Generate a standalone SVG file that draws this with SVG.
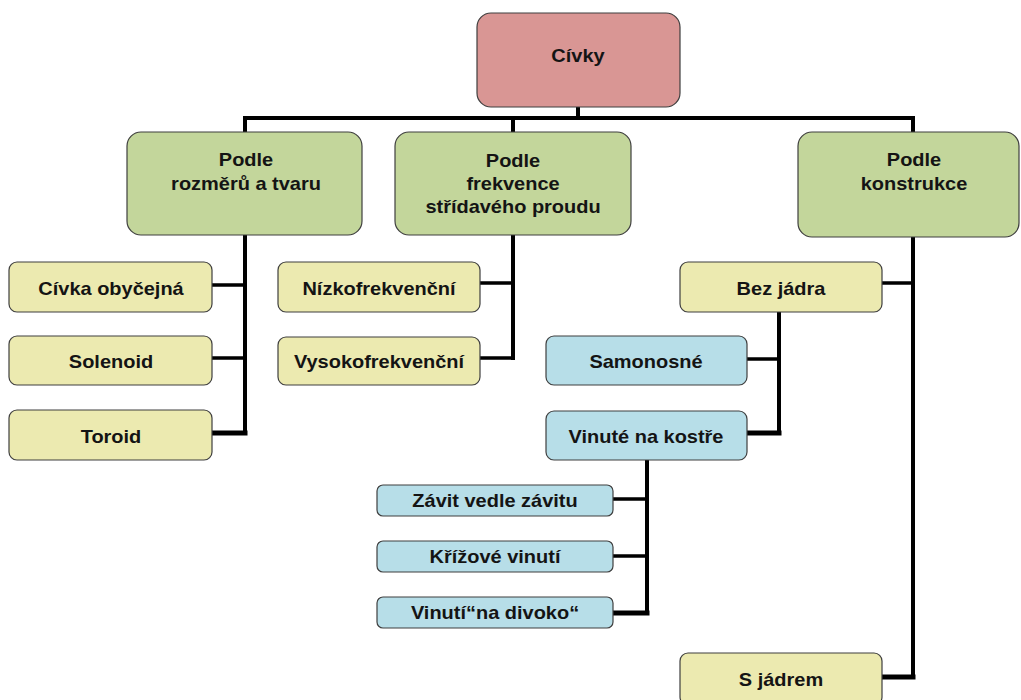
<svg xmlns="http://www.w3.org/2000/svg" width="1021" height="700" viewBox="0 0 1021 700">
<style>
.box{stroke:#3f3f3f;stroke-width:1.2}
.root{fill:#D99694}
.green{fill:#C3D69B}
.yellow{fill:#ECEAB0}
.blue{fill:#B7DEE8}
.t{font-family:"Liberation Sans",Arial,sans-serif;font-weight:bold;font-size:18px;fill:#141414;text-anchor:middle}
.c{fill:none;stroke:#000;stroke-linecap:square}
.w4{stroke-width:4}
.w3{stroke-width:3.5}
.w5{stroke-width:5}
</style>
<rect width="1021" height="700" fill="#fff"/>
<g id="connectors">
<path class="c w4" d="M578,107 V118 M245,118 H913 M245,118 V132 M513,118 V132 M913,118 V132"/>
<path class="c w4" d="M245,235 V433"/>
<path class="c w3" d="M213,285 H245 M213,358 H245"/>
<path class="c w5" d="M213,433 H245"/>
<path class="c w4" d="M513,235 V358"/>
<path class="c w3" d="M481,283 H513 M481,358 H513"/>
<path class="c w4" d="M913,237 V677"/>
<path class="c w3" d="M883,283 H913"/>
<path class="c w5" d="M883,677 H913"/>
<path class="c w4" d="M779,312 V433"/>
<path class="c w3" d="M748,359 H779"/>
<path class="c w5" d="M748,433 H779"/>
<path class="c w4" d="M647,460 V613"/>
<path class="c w3" d="M614,499 H647 M614,556 H647"/>
<path class="c w5" d="M614,613 H647"/>
</g>
<g id="civky">
<rect class="box root" x="477" y="13" width="203" height="94" rx="14"/>
<text class="t" transform="translate(578,62) scale(1.11,1)">Cívky</text>
</g>
<g id="podle-rozmeru">
<rect class="box green" x="127" y="132" width="235" height="103" rx="14"/>
<text class="t" transform="translate(246,166) scale(1.11,1)">Podle</text>
<text class="t" transform="translate(246,190) scale(1.11,1)">rozměrů a tvaru</text>
</g>
<g id="podle-frekvence">
<rect class="box green" x="395" y="132" width="236" height="103" rx="14"/>
<text class="t" transform="translate(513,167) scale(1.11,1)">Podle</text>
<text class="t" transform="translate(513,190) scale(1.11,1)">frekvence</text>
<text class="t" transform="translate(513,213) scale(1.11,1)">střídavého proudu</text>
</g>
<g id="podle-konstrukce">
<rect class="box green" x="798" y="132" width="221" height="105" rx="14"/>
<text class="t" transform="translate(914,166) scale(1.11,1)">Podle</text>
<text class="t" transform="translate(914,190) scale(1.11,1)">konstrukce</text>
</g>
<g id="civka-obycejna">
<rect class="box yellow" x="9" y="262" width="203" height="50" rx="8"/>
<text class="t" transform="translate(111,295) scale(1.11,1)">Cívka obyčejná</text>
</g>
<g id="solenoid">
<rect class="box yellow" x="9" y="336" width="203" height="49" rx="8"/>
<text class="t" transform="translate(111,368) scale(1.11,1)">Solenoid</text>
</g>
<g id="toroid">
<rect class="box yellow" x="9" y="410" width="203" height="50" rx="8"/>
<text class="t" transform="translate(111,443) scale(1.11,1)">Toroid</text>
</g>
<g id="nizkofrekvencni">
<rect class="box yellow" x="278" y="262" width="202" height="50" rx="8"/>
<text class="t" transform="translate(379,295) scale(1.11,1)">Nízkofrekvenční</text>
</g>
<g id="vysokofrekvencni">
<rect class="box yellow" x="278" y="337" width="202" height="48" rx="8"/>
<text class="t" transform="translate(379,368) scale(1.11,1)">Vysokofrekvenční</text>
</g>
<g id="bez-jadra">
<rect class="box yellow" x="680" y="262" width="202" height="50" rx="8"/>
<text class="t" transform="translate(781,295) scale(1.11,1)">Bez jádra</text>
</g>
<g id="samonosne">
<rect class="box blue" x="546" y="336" width="201" height="49" rx="8"/>
<text class="t" transform="translate(646,368) scale(1.11,1)">Samonosné</text>
</g>
<g id="vinute-na-kostre">
<rect class="box blue" x="546" y="411" width="201" height="49" rx="8"/>
<text class="t" transform="translate(646,443) scale(1.11,1)">Vinuté na kostře</text>
</g>
<g id="zavit-vedle-zavitu">
<rect class="box blue" x="377" y="485" width="236" height="31" rx="6"/>
<text class="t" transform="translate(495,507) scale(1.11,1)">Závit vedle závitu</text>
</g>
<g id="krizove-vinuti">
<rect class="box blue" x="377" y="541" width="236" height="31" rx="6"/>
<text class="t" transform="translate(495,563) scale(1.11,1)">Křížové vinutí</text>
</g>
<g id="vinuti-na-divoko">
<rect class="box blue" x="377" y="597" width="236" height="31" rx="6"/>
<text class="t" transform="translate(495,619) scale(1.11,1)">Vinutí“na divoko“</text>
</g>
<g id="s-jadrem">
<rect class="box yellow" x="680" y="653" width="202" height="52" rx="8"/>
<text class="t" transform="translate(781,686) scale(1.11,1)">S jádrem</text>
</g>
</svg>
